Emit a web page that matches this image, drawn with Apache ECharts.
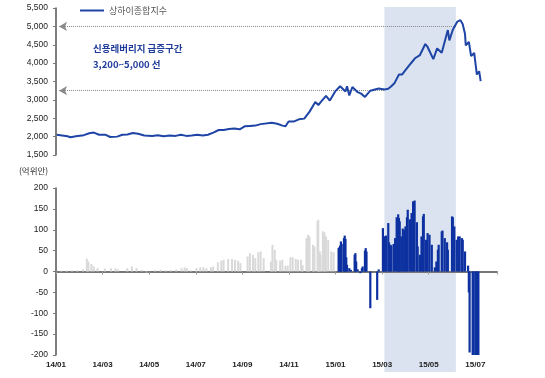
<!DOCTYPE html>
<html><head><meta charset="utf-8">
<script src="https://cdn.jsdelivr.net/npm/echarts@6/dist/echarts.min.js"></script>
<style>html,body{margin:0;padding:0;background:#fff}#c{width:545px;height:378px}</style>
</head><body><div id="c"></div>
<script>
const seriesName = '상하이종합지수';
const unitLabel = '(억위안)';
const noteLines = ['신용레버리지 급증구간', '3,200~5,000 선'];
const xTickLabels = ['14/01','14/03','14/05','14/07','14/09','14/11','15/01','15/03','15/05','15/07'];
const bandRange = ['2015-03-04', '2015-06-06'];
const refLevels = [5000, 3250];
const refStart = '2014-01-05';
const refEnds = ['2015-06-06', '2015-03-04'];

const lineDates = ['2014-01-02','2014-01-09','2014-01-16','2014-01-20','2014-01-27','2014-02-07','2014-02-14','2014-02-20','2014-02-27','2014-03-05','2014-03-11','2014-03-20','2014-03-27','2014-04-03','2014-04-10','2014-04-17','2014-04-25','2014-05-05','2014-05-12','2014-05-20','2014-05-28','2014-06-05','2014-06-12','2014-06-19','2014-06-26','2014-07-03','2014-07-10','2014-07-17','2014-07-24','2014-07-31','2014-08-07','2014-08-14','2014-08-21','2014-08-28','2014-09-04','2014-09-11','2014-09-18','2014-09-25','2014-10-09','2014-10-16','2014-10-23','2014-10-27','2014-10-31','2014-11-07','2014-11-14','2014-11-21','2014-11-28','2014-12-05','2014-12-09','2014-12-12','2014-12-19','2014-12-24','2014-12-31','2015-01-07','2015-01-14','2015-01-16','2015-01-19','2015-01-23','2015-01-30','2015-02-04','2015-02-09','2015-02-16','2015-02-27','2015-03-04','2015-03-09','2015-03-13','2015-03-17','2015-03-23','2015-03-27','2015-04-01','2015-04-08','2015-04-14','2015-04-20','2015-04-27','2015-04-30','2015-05-07','2015-05-12','2015-05-18','2015-05-26','2015-05-28','2015-06-02','2015-06-08','2015-06-12','2015-06-15','2015-06-18','2015-06-19','2015-06-23','2015-06-26','2015-06-30','2015-07-03','2015-07-06','2015-07-07','2015-07-08'];
const lineValues = [2050,2030,2010,1985,2010,2040,2090,2110,2050,2050,1990,2000,2050,2060,2100,2080,2030,2020,2040,2010,2030,2020,2050,2020,2030,2050,2030,2050,2110,2180,2180,2210,2220,2200,2280,2290,2300,2340,2380,2350,2300,2280,2410,2410,2470,2490,2680,2940,2860,2940,3110,2980,3230,3370,3230,3370,3120,3350,3210,3170,3080,3250,3310,3280,3300,3370,3450,3690,3690,3810,3990,4140,4220,4520,4440,4110,4400,4280,4900,4620,4910,5130,5170,5060,4790,4480,4580,4190,4280,3690,3780,3730,3510];

const grayDates = ['2014-01-08','2014-01-15','2014-01-22','2014-01-29','2014-02-06','2014-02-11','2014-02-13','2014-02-17','2014-02-20','2014-02-25','2014-03-04','2014-03-12','2014-03-18','2014-03-21','2014-04-03','2014-04-09','2014-04-15','2014-04-22','2014-04-28','2014-05-09','2014-05-16','2014-05-23','2014-05-29','2014-06-06','2014-06-13','2014-06-17','2014-06-20','2014-06-25','2014-07-02','2014-07-07','2014-07-11','2014-07-15','2014-07-21','2014-07-24','2014-07-30','2014-08-04','2014-08-07','2014-08-13','2014-08-18','2014-08-22','2014-08-26','2014-08-29','2014-09-08','2014-09-11','2014-09-15','2014-09-18','2014-09-22','2014-09-25','2014-09-29','2014-10-08','2014-10-10','2014-10-13','2014-10-15','2014-10-20','2014-10-23','2014-10-27','2014-10-30','2014-11-03','2014-11-06','2014-11-10','2014-11-13','2014-11-17','2014-11-19','2014-11-24','2014-11-26','2014-11-28','2014-12-02','2014-12-04','2014-12-08','2014-12-09','2014-12-11','2014-12-12','2014-12-15','2014-12-17','2014-12-19','2014-12-22','2014-12-26','2014-12-29'];
const grayValues = [2,2,3,3,5,31,24,18,12,8,7,8,8,5,8,12,8,4,-2,3,4,3,4,5,8,10,8,3,8,10,10,8,10,12,22,26,28,30,30,28,26,20,36,44,40,32,46,48,32,24,64,52,28,26,28,14,14,34,34,30,28,28,15,80,88,84,64,60,120,124,48,40,96,94,84,76,48,46];

const blueDates = ['2015-01-05','2015-01-06','2015-01-07','2015-01-08','2015-01-09','2015-01-12','2015-01-13','2015-01-14','2015-01-15','2015-01-16','2015-01-19','2015-01-21','2015-01-26','2015-01-27','2015-01-28','2015-01-30','2015-02-03','2015-02-05','2015-02-06','2015-02-09','2015-02-10','2015-02-11','2015-02-16','2015-02-25','2015-02-27','2015-03-02','2015-03-03','2015-03-04','2015-03-06','2015-03-09','2015-03-10','2015-03-12','2015-03-13','2015-03-16','2015-03-18','2015-03-20','2015-03-22','2015-03-23','2015-03-24','2015-03-26','2015-03-28','2015-03-30','2015-04-01','2015-04-03','2015-04-04','2015-04-07','2015-04-09','2015-04-11','2015-04-13','2015-04-16','2015-04-17','2015-04-20','2015-04-22','2015-04-24','2015-04-25','2015-04-28','2015-04-30','2015-05-02','2015-05-05','2015-05-09','2015-05-11','2015-05-13','2015-05-14','2015-05-18','2015-05-19','2015-05-22','2015-05-25','2015-05-26','2015-06-01','2015-06-02','2015-06-04','2015-06-07','2015-06-09','2015-06-11','2015-06-14','2015-06-15','2015-06-18','2015-06-22','2015-06-23','2015-06-24','2015-06-28','2015-06-29','2015-07-01','2015-07-02','2015-07-04','2015-07-05'];
const blueValues = [56,58,62,72,66,80,86,78,34,16,8,4,40,44,24,5,-4,8,12,50,56,48,-88,-68,5,104,84,84,86,116,70,64,62,66,80,130,137,128,120,84,103,100,108,130,148,125,140,168,170,118,60,40,84,132,138,76,92,88,64,10,24,52,64,96,98,80,70,52,132,130,108,76,84,84,80,76,48,14,-50,-194,-200,-200,-200,-200,-200,-200];

function toM(s){ const p = s.split('-').map(Number); return (p[0]-2014)*12 + (p[1]-1) + (p[2]-1)/30.5; }
const XMAX = 18.93;
const numFont = '"Liberation Sans", Arial, sans-serif';
const krFont = '"Noto Sans CJK KR", sans-serif';

const chart = echarts.init(document.getElementById('c'), null, {renderer: 'canvas'});
const fmtComma = v => Math.round(v).toLocaleString('en-US');
const xLabelFmt = v => { const i = Math.round(v/2); return (Math.abs(v - i*2) < 1e-6 && xTickLabels[i]) ? xTickLabels[i] : ''; };

chart.setOption({
  animation: false,
  backgroundColor: '#ffffff',
  legend: {
    data: [seriesName], left: 75, top: 1, icon: 'rect', itemWidth: 24, itemHeight: 2, itemGap: 6,
    textStyle: {fontSize: 9, color: '#555', fontFamily: krFont}
  },
  grid: [
    {left: 56, top: 8, width: 441, height: 147},
    {left: 56, top: 188, width: 441, height: 167}
  ],
  xAxis: [
    {gridIndex: 0, type: 'value', min: 0, max: XMAX, show: false},
    {gridIndex: 1, type: 'value', min: 0, max: XMAX, interval: 2,
      axisLine: {show: true, onZero: true, lineStyle: {color: '#777', width: 2}},
      axisTick: {show: true, length: 3, lineStyle: {color: '#999'}},
      axisLabel: {show: false}, splitLine: {show: false}},
    {gridIndex: 1, type: 'value', min: 0, max: XMAX, interval: 2, position: 'bottom',
      axisLine: {show: false, onZero: false}, axisTick: {show: false}, splitLine: {show: false},
      axisLabel: {show: true, margin: 6, fontSize: 8, color: '#222', fontFamily: numFont, fontWeight: 'bold', showMaxLabel: false, formatter: xLabelFmt}}
  ],
  yAxis: [
    {gridIndex: 0, type: 'value', min: 1500, max: 5500, interval: 500,
      axisLine: {show: true, lineStyle: {color: '#555', width: 1.5}},
      axisTick: {show: true, length: 3, lineStyle: {color: '#777'}},
      splitLine: {show: false},
      axisLabel: {margin: 8, fontSize: 8.5, color: '#222', fontFamily: numFont, formatter: fmtComma}},
    {gridIndex: 1, type: 'value', min: -200, max: 200, interval: 50,
      axisLine: {show: true, onZero: false, lineStyle: {color: '#555', width: 1.5}},
      axisTick: {show: true, length: 3, lineStyle: {color: '#777'}},
      splitLine: {show: false},
      axisLabel: {margin: 8, fontSize: 8.5, color: '#222', fontFamily: numFont}}
  ],
  series: [
    {name: seriesName, type: 'line', xAxisIndex: 0, yAxisIndex: 0, showSymbol: false, z: 5,
      data: lineDates.map((d, i) => [toM(d), lineValues[i]]),
      lineStyle: {color: '#1e44a6', width: 2}, itemStyle: {color: '#1e44a6'},
      markLine: {silent: true, symbol: ['arrow', 'none'], symbolSize: [7, 8], label: {show: false},
        lineStyle: {type: 'dotted', color: '#8a8a8a', width: 1},
        data: refLevels.map((lv, i) => [{coord: [toM(refStart), lv]}, {coord: [toM(refEnds[i]), lv]}])}
    },
    {name: 'gray', type: 'bar', xAxisIndex: 1, yAxisIndex: 1, barWidth: 2, barGap: '-100%',
      data: grayDates.map((d, i) => [toM(d), grayValues[i]]), itemStyle: {color: '#d9d9d9'}},
    {name: 'blue', type: 'bar', xAxisIndex: 1, yAxisIndex: 1, barWidth: 2.2, barGap: '-100%',
      data: blueDates.map((d, i) => [toM(d), blueValues[i]]), itemStyle: {color: '#0d31a0'}}
  ]
});

const bx0 = chart.convertToPixel({xAxisIndex: 0}, toM(bandRange[0]));
const bx1 = chart.convertToPixel({xAxisIndex: 0}, toM(bandRange[1]));
chart.setOption({
  graphic: [
    {type: 'rect', z: -10, silent: true, shape: {x: bx0, y: 7, width: bx1 - bx0, height: 365}, style: {fill: '#dae3ef'}},
    {type: 'text', left: 93, top: 44, style: {text: noteLines[0], fontSize: 9.5, fontWeight: 'bold', fontFamily: krFont, fill: '#1f3c9b'}},
    {type: 'text', left: 93, top: 60, style: {text: noteLines[1], fontSize: 9.5, fontWeight: 'bold', fontFamily: krFont, fill: '#1f3c9b'}},
    {type: 'text', left: 19, top: 167, style: {text: unitLabel, fontSize: 8.5, fontFamily: krFont, fill: '#333'}}
  ]
});
</script></body></html>
